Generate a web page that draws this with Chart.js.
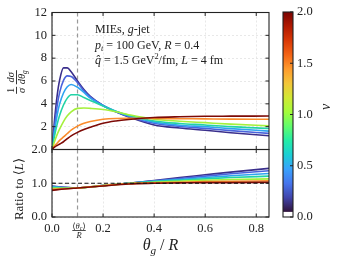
<!DOCTYPE html>
<html>
<head>
<meta charset="utf-8">
<script src="https://cdn.jsdelivr.net/npm/chart.js@4.4.1/dist/chart.umd.min.js"></script>
<style>
  html, body { margin: 0; padding: 0; background: #fff; }
  #wrap { position: relative; width: 341px; height: 262px; }
  #wrap canvas { position: absolute; left: 0; top: 0; }
</style>
</head>
<body>
<div id="wrap">
  <canvas id="topChart" width="341" height="262"></canvas>
  <canvas id="ratioChart" width="341" height="262"></canvas>
  <canvas id="cbarChart" width="341" height="262"></canvas>
</div>
<script>
// values of v, one curve each
const vValues = [0.1, 0.25, 0.5, 0.75, 1.0, 1.5, 2.0];
const seriesColors = ['#3a2f8c', '#4a63db', '#2fa3f0', '#22d3a6', '#a5f03c', '#fb8c2c', '#7d0a06'];

// upper panel: 1/sigma dsigma/dtheta_g
const thetaTop = [0, 0.01, 0.02, 0.03, 0.045, 0.06, 0.075, 0.1, 0.125, 0.15, 0.2, 0.25, 0.3, 0.4, 0.5, 0.6, 0.7, 0.85];
const distV010 = [0, 2.6, 4.7, 6.1, 7.15, 7.15, 6.8, 6.0, 5.25, 4.65, 3.85, 3.3, 2.85, 2.15, 1.88, 1.68, 1.47, 1.2];
const distV025 = [0, 2.0, 3.8, 5.0, 6.05, 6.45, 6.4, 5.85, 5.15, 4.6, 3.85, 3.3, 2.9, 2.3, 2.02, 1.85, 1.65, 1.41];
const distV050 = [0, 1.6, 3.0, 4.0, 4.95, 5.5, 5.7, 5.45, 5.0, 4.5, 3.85, 3.35, 2.95, 2.4, 2.13, 2.0, 1.83, 1.61];
const distV075 = [0, 1.2, 2.2, 3.0, 3.9, 4.5, 4.8, 4.8, 4.55, 4.3, 3.8, 3.35, 3.0, 2.5, 2.28, 2.15, 2.0, 1.84];
const distV100 = [0, 0.7, 1.3, 1.8, 2.45, 2.95, 3.3, 3.6, 3.63, 3.6, 3.5, 3.3, 3.05, 2.65, 2.48, 2.35, 2.22, 2.07];
const distV150 = [0, 0.3, 0.55, 0.8, 1.1, 1.4, 1.7, 2.05, 2.3, 2.45, 2.65, 2.72, 2.73, 2.72, 2.7, 2.68, 2.66, 2.65];
const distV200 = [0, 0.2, 0.35, 0.48, 0.68, 0.95, 1.2, 1.5, 1.75, 1.95, 2.3, 2.5, 2.63, 2.8, 2.87, 2.91, 2.92, 2.93];
const topSeries = [distV010, distV025, distV050, distV075, distV100, distV150, distV200];

// lower panel: ratio to <L>
const thetaRatio = [0, 0.05, 0.1, 0.2, 0.3, 0.4, 0.5, 0.6, 0.7, 0.85];
const ratioV010 = [0.92, 0.88, 0.86, 0.93, 1.0, 1.08, 1.17, 1.25, 1.33, 1.44];
const ratioV025 = [0.91, 0.87, 0.86, 0.93, 1.0, 1.07, 1.14, 1.21, 1.28, 1.37];
const ratioV050 = [0.90, 0.87, 0.86, 0.93, 1.0, 1.06, 1.11, 1.17, 1.22, 1.29];
const ratioV075 = [0.88, 0.86, 0.86, 0.93, 1.0, 1.05, 1.09, 1.13, 1.17, 1.21];
const ratioV100 = [0.85, 0.85, 0.86, 0.93, 0.99, 1.03, 1.06, 1.09, 1.11, 1.13];
const ratioV150 = [0.82, 0.84, 0.86, 0.93, 0.99, 1.01, 1.03, 1.05, 1.06, 1.07];
const ratioV200 = [0.79, 0.83, 0.86, 0.92, 0.98, 1.0, 1.01, 1.02, 1.02, 1.03];
const ratioSeries = [ratioV010, ratioV025, ratioV050, ratioV075, ratioV100, ratioV150, ratioV200];

const thetaC = 0.1;
const xTicks = [0, 0.2, 0.4, 0.6, 0.8];
const yTopTicks = [0, 2, 4, 6, 8, 10, 12];
const yRatioTicks = [0, 0.5, 1.0, 1.5, 2.0];
const cbarTicks = [0, 0.5, 1.0, 1.5, 2.0];

// turbo-like colour map for the colour bar
const turboStops = ['#30123b', '#4145ab', '#4675ed', '#39a2fc', '#1bcfd4', '#24eca6', '#61fc6c', '#a4fc3b',
                    '#d1e834', '#f3c63a', '#fe9b2d', '#f36315', '#d93806', '#b11901', '#7a0403'];

const SERIF = '"Liberation Serif", "DejaVu Serif", serif';
const INK = '#222';
const gridColor = '#e2e2e2';

function runs(ctx, x, y, parts, size, measureOnly) {
  parts.forEach(p => {
    const fs = (p.sub || p.sup) ? size * 0.7 : size;
    ctx.font = (p.it ? 'italic ' : '') + fs + 'px ' + SERIF;
    const dy = p.sub ? size * 0.22 : (p.sup ? -size * 0.38 : 0);
    if (!measureOnly) ctx.fillText(p.t, x, y + dy);
    x += ctx.measureText(p.t).width;
  });
  return x;
}

const frame = {
  id: 'frame',
  afterDatasetsDraw(chart) {
    const {ctx, chartArea: a} = chart;
    const xs = chart.scales.x, ys = chart.scales.y;
    ctx.save();
    ctx.strokeStyle = INK;
    ctx.lineWidth = 1;
    ctx.beginPath();
    xs.ticks.forEach(t => {
      const p = xs.getPixelForValue(t.value);
      ctx.moveTo(p, a.bottom); ctx.lineTo(p, a.bottom - 3.5);
      ctx.moveTo(p, a.top); ctx.lineTo(p, a.top + 3.5);
    });
    ys.ticks.forEach(t => {
      const p = ys.getPixelForValue(t.value);
      ctx.moveTo(a.left, p); ctx.lineTo(a.left + 3.5, p);
      ctx.moveTo(a.right, p); ctx.lineTo(a.right - 3.5, p);
    });
    ctx.stroke();
    ctx.lineWidth = 1.1;
    ctx.strokeRect(a.left, a.top, a.width, a.height);
    ctx.restore();
  }
};

const thetaCLine = {
  id: 'thetaCLine',
  beforeDatasetsDraw(chart) {
    const {ctx, chartArea: a} = chart;
    const p = chart.scales.x.getPixelForValue(thetaC);
    ctx.save();
    ctx.strokeStyle = '#999';
    ctx.lineWidth = 1.2;
    ctx.setLineDash([4, 3]);
    ctx.beginPath();
    ctx.moveTo(p, a.top); ctx.lineTo(p, a.bottom);
    ctx.stroke();
    ctx.restore();
  }
};

const topText = {
  id: 'topText',
  afterDraw(chart) {
    const ctx = chart.ctx;
    ctx.save();
    ctx.fillStyle = INK;
    ctx.textBaseline = 'alphabetic';
    ctx.textAlign = 'left';
    runs(ctx, 95, 33, [{t: 'MIEs, '}, {t: 'g', it: true}, {t: '-jet'}], 12);
    runs(ctx, 95, 48.5, [{t: 'p', it: true}, {t: 't', it: true, sub: true}, {t: ' = 100 GeV, '}, {t: 'R', it: true}, {t: ' = 0.4'}], 12);
    runs(ctx, 95, 64, [{t: 'q\u0302', it: true}, {t: ' = 1.5 GeV'}, {t: '2', sup: true}, {t: '/fm, '}, {t: 'L', it: true}, {t: ' = 4 fm'}], 12);

    // y title: 1/sigma dsigma/dtheta_g (rotated)
    ctx.translate(16.5, 82);
    ctx.rotate(-Math.PI / 2);
    const fs = 10.5;
    const w1 = 7, gap = 2.5;
    ctx.font = 'italic ' + fs + 'px ' + SERIF;
    const wDen2 = runs(ctx, 0, 0, [{t: 'd', it: true}, {t: '\u03b8', it: true}, {t: 'g', it: true, sub: true}], fs, true);
    const total = w1 + gap + wDen2;
    let x0 = -total / 2;
    ctx.textAlign = 'left';
    ctx.font = fs + 'px ' + SERIF;
    ctx.fillText('1', x0 + (w1 - ctx.measureText('1').width) / 2, -2.5);
    ctx.font = 'italic ' + fs + 'px ' + SERIF;
    ctx.fillText('\u03c3', x0 + (w1 - ctx.measureText('\u03c3').width) / 2, 8.5);
    ctx.fillRect(x0, -0.5, w1, 0.9);
    const x1 = x0 + w1 + gap;
    const wNum2 = runs(ctx, 0, 0, [{t: 'd\u03c3', it: true}], fs, true);
    runs(ctx, x1 + (wDen2 - wNum2) / 2, -2.5, [{t: 'd\u03c3', it: true}], fs);
    runs(ctx, x1, 8.5, [{t: 'd', it: true}, {t: '\u03b8', it: true}, {t: 'g', it: true, sub: true}], fs);
    ctx.fillRect(x1, -0.5, wDen2, 0.9);
    ctx.restore();
  }
};

const ratioText = {
  id: 'ratioText',
  afterDraw(chart) {
    const ctx = chart.ctx;
    const p = chart.scales.x.getPixelForValue(thetaC);
    ctx.save();
    ctx.fillStyle = INK;
    // <theta_c>/R tick label
    ctx.textBaseline = 'alphabetic';
    const wn = runs(ctx, 0, 0, [{t: '\u27e8'}, {t: '\u03b8', it: true}, {t: 'c', it: true, sub: true}, {t: '\u27e9'}], 8.5, true);
    runs(ctx, p + 1.5 - wn / 2, 228.5, [{t: '\u27e8'}, {t: '\u03b8', it: true}, {t: 'c', it: true, sub: true}, {t: '\u27e9'}], 8.5);
    ctx.fillRect(p + 1.5 - wn / 2, 230, wn, 0.8);
    ctx.font = 'italic 8.5px ' + SERIF;
    ctx.textAlign = 'center';
    ctx.fillText('R', p + 1.5, 237.5);
    // x title
    ctx.textAlign = 'left';
    const xt = [{t: '\u03b8', it: true}, {t: 'g', it: true, sub: true}, {t: ' / '}, {t: 'R', it: true}];
    const wx = runs(ctx, 0, 0, xt, 16, true);
    runs(ctx, 160.5 - wx / 2, 250, xt, 16);
    // y title
    ctx.translate(20, 189);
    ctx.rotate(-Math.PI / 2);
    const yt = [{t: 'Ratio to \u27e8'}, {t: 'L', it: true}, {t: '\u27e9'}];
    const wy = runs(ctx, 0, 0, yt, 13, true);
    ctx.textBaseline = 'middle';
    runs(ctx, -wy / 2, 0, yt, 13);
    ctx.restore();
  }
};

const cbarPaint = {
  id: 'cbarPaint',
  beforeDatasetsDraw(chart) {
    const {ctx, chartArea: a} = chart;
    const ys = chart.scales.y;
    const y0 = ys.getPixelForValue(0), y2 = ys.getPixelForValue(2);
    const yCut = ys.getPixelForValue(0.05);
    ctx.save();
    ctx.fillStyle = '#fff';
    ctx.fillRect(a.left, yCut, a.width, y0 - yCut);
    const g = ctx.createLinearGradient(0, yCut, 0, y2);
    turboStops.forEach((c, i) => g.addColorStop(i / (turboStops.length - 1), c));
    ctx.fillStyle = g;
    ctx.fillRect(a.left, y2, a.width, yCut - y2);
    ctx.strokeStyle = INK;
    ctx.lineWidth = 1;
    ctx.beginPath();
    ys.ticks.forEach(t => {
      const p = ys.getPixelForValue(t.value);
      ctx.moveTo(a.right, p); ctx.lineTo(a.right - 3, p);
    });
    ctx.stroke();
    ctx.lineWidth = 1.1;
    ctx.strokeRect(a.left, a.top, a.width, a.height);
    // colour bar label
    ctx.translate(326, 107);
    ctx.rotate(-Math.PI / 2);
    ctx.fillStyle = INK;
    ctx.font = 'italic 14px ' + SERIF;
    ctx.textAlign = 'center';
    ctx.textBaseline = 'middle';
    ctx.fillText('v', 0, 0);
    ctx.restore();
  }
};

function tickFont() { return {family: SERIF, size: 12.5}; }

function lineSets(xs, series) {
  return series.map((vals, i) => ({
    label: 'v = ' + vValues[i],
    data: xs.map((t, j) => ({x: t, y: vals[j]})),
    borderColor: seriesColors[i],
    borderWidth: 1.6,
    pointRadius: 0,
    cubicInterpolationMode: 'monotone',
    order: series.length - i
  }));
}

const xScaleBase = {
  type: 'linear', min: 0, max: 0.85,
  afterBuildTicks: s => { s.ticks = xTicks.map(v => ({value: v})); },
  grid: {color: gridColor, lineWidth: 0.8, drawTicks: false},
  border: {display: false, dash: [2, 2]}
};

new Chart(document.getElementById('topChart'), {
  type: 'line',
  data: {datasets: lineSets(thetaTop, topSeries)},
  options: {
    responsive: false, animation: false, devicePixelRatio: 1,
    layout: {padding: {left: 0, right: 72, top: 12, bottom: 112.5}},
    plugins: {legend: {display: false}, tooltip: {enabled: false}},
    scales: {
      x: Object.assign({}, xScaleBase, {
        ticks: {display: false},
        afterFit: s => { s.height = 0; }
      }),
      y: {
        min: 0, max: 12,
        afterBuildTicks: s => { s.ticks = yTopTicks.map(v => ({value: v})); },
        afterFit: s => { s.width = 52; },
        ticks: {font: tickFont(), color: INK, padding: 5, callback: v => v === 0 ? '' : String(v)},
        grid: {color: gridColor, lineWidth: 0.8, drawTicks: false},
        border: {display: false, dash: [2, 2]}
      }
    }
  },
  plugins: [thetaCLine, frame, topText]
});

const unitLine = {
  label: 'ratio = 1',
  data: [{x: 0, y: 1}, {x: 0.85, y: 1}],
  borderColor: '#111',
  borderWidth: 1.2,
  borderDash: [4, 2.5],
  pointRadius: 0,
  order: -1
};

new Chart(document.getElementById('ratioChart'), {
  type: 'line',
  data: {datasets: lineSets(thetaRatio, ratioSeries).concat([unitLine])},
  options: {
    responsive: false, animation: false, devicePixelRatio: 1,
    layout: {padding: {left: 0, right: 72, top: 149.5, bottom: 0}},
    plugins: {legend: {display: false}, tooltip: {enabled: false}},
    scales: {
      x: Object.assign({}, xScaleBase, {
        ticks: {font: tickFont(), color: INK, padding: 4, maxRotation: 0, autoSkip: false, callback: v => v.toFixed(1)},
        afterFit: s => { s.height = 45; }
      }),
      y: {
        min: 0, max: 2,
        afterBuildTicks: s => { s.ticks = yRatioTicks.map(v => ({value: v})); },
        afterFit: s => { s.width = 52; },
        ticks: {font: tickFont(), color: INK, padding: 5, callback: v => v.toFixed(1)},
        grid: {color: gridColor, lineWidth: 0.8, drawTicks: false},
        border: {display: false, dash: [2, 2]}
      }
    }
  },
  plugins: [thetaCLine, frame, ratioText]
});

new Chart(document.getElementById('cbarChart'), {
  type: 'scatter',
  data: {datasets: []},
  options: {
    responsive: false, animation: false, devicePixelRatio: 1,
    layout: {padding: {left: 283, right: 8, top: 12, bottom: 45}},
    plugins: {legend: {display: false}, tooltip: {enabled: false}},
    scales: {
      x: {display: false, min: 0, max: 1},
      y: {
        position: 'right', min: 0, max: 2,
        afterBuildTicks: s => { s.ticks = cbarTicks.map(v => ({value: v})); },
        afterFit: s => { s.width = 40; },
        ticks: {font: tickFont(), color: INK, padding: 4, callback: v => v.toFixed(1)},
        grid: {drawOnChartArea: false, drawTicks: false},
        border: {display: false}
      }
    }
  },
  plugins: [cbarPaint]
});
</script>
</body>
</html>
